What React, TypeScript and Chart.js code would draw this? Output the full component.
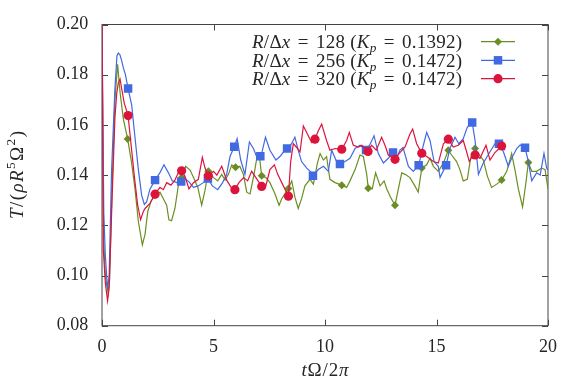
import React, { useEffect, useRef } from "react";
import { Chart, registerables } from "chart.js";
Chart.register(...registerables);

// ---------- data ----------
// R/Δx = 128 (green)
const t128 = [0, 0.07, 0.15, 0.27, 0.34, 0.45, 0.58, 0.7, 0.81, 0.96, 1.33, 1.48, 1.63, 1.81, 1.93, 2.05, 2.2, 2.6, 2.75, 2.9, 3.0, 3.12, 3.27, 3.42, 3.75, 3.95, 4.14, 4.3, 4.47, 4.62, 5.0, 5.19, 5.37, 5.52, 5.67, 5.82, 6.18, 6.34, 6.49, 6.64, 6.83, 6.94, 7.06, 7.35, 7.53, 7.76, 7.94, 8.06, 8.51, 8.65, 8.8, 8.95, 9.1, 9.33, 9.48, 9.66, 9.78, 9.93, 10.07, 10.22, 10.45, 10.97, 11.12, 11.35, 11.57, 11.72, 11.87, 12.12, 12.27, 12.47, 12.65, 12.77, 12.94, 13.29, 13.44, 13.59, 13.81, 14.03, 14.18, 14.56, 14.71, 14.86, 15.08, 15.31, 15.68, 15.9, 16.05, 16.2, 16.38, 16.53, 16.92, 17.1, 17.28, 17.47, 17.7, 18.15, 18.37, 18.52, 18.67, 18.86, 19.01, 19.27, 19.49, 19.72, 19.87, 20.0];
const v128 = [0.205, 0.115, 0.1, 0.093, 0.098, 0.135, 0.17, 0.1841, 0.173, 0.1622, 0.1448, 0.1344, 0.1215, 0.1122, 0.1164, 0.1254, 0.1297, 0.1332, 0.1306, 0.128, 0.1222, 0.1218, 0.1267, 0.1357, 0.1435, 0.142, 0.1383, 0.135, 0.128, 0.134, 0.139, 0.1377, 0.1403, 0.138, 0.1403, 0.1441, 0.1435, 0.1403, 0.1332, 0.1325, 0.1409, 0.1467, 0.1474, 0.139, 0.137, 0.1325, 0.128, 0.1306, 0.1377, 0.1312, 0.1267, 0.1306, 0.1357, 0.1383, 0.1364, 0.1448, 0.1486, 0.146, 0.1474, 0.1383, 0.137, 0.1351, 0.1377, 0.1422, 0.148, 0.1474, 0.1403, 0.1345, 0.1409, 0.1357, 0.1377, 0.1345, 0.1312, 0.1345, 0.1409, 0.1403, 0.139, 0.1357, 0.1332, 0.1441, 0.1467, 0.1435, 0.1415, 0.1448, 0.148, 0.1454, 0.1422, 0.1377, 0.1383, 0.1467, 0.148, 0.146, 0.1396, 0.1351, 0.1364, 0.1415, 0.1486, 0.142, 0.1345, 0.1273, 0.137, 0.1415, 0.1415, 0.1428, 0.1422, 0.1345];
const mark128T = [1.15, 2.38, 3.57, 4.77, 5.99, 7.16, 8.36, 10.75, 11.94, 13.14, 14.34, 15.53, 16.73, 17.92, 19.12];
const mark128V = [0.1544, 0.132, 0.139, 0.1415, 0.1431, 0.1397, 0.1347, 0.136, 0.1348, 0.128, 0.1428, 0.1499, 0.1506, 0.138, 0.145];

// R/Δx = 256 (blue)
const t256 = [0, 0.08, 0.15, 0.25, 0.32, 0.43, 0.58, 0.67, 0.73, 0.8, 0.87, 0.95, 1.05, 1.33, 1.48, 1.63, 1.78, 1.9, 2.0, 2.15, 2.6, 2.78, 2.98, 3.15, 3.35, 3.72, 3.9, 4.1, 4.32, 4.54, 4.95, 5.19, 5.41, 5.59, 5.74, 6.06, 6.22, 6.41, 6.61, 6.79, 6.95, 7.16, 7.33, 7.53, 7.8, 7.98, 8.12, 8.5, 8.65, 8.8, 8.95, 9.18, 9.4, 9.7, 9.93, 10.15, 10.3, 10.52, 10.9, 11.12, 11.35, 11.57, 12.0, 12.2, 12.39, 12.62, 12.84, 13.21, 13.36, 13.5, 13.74, 13.96, 14.41, 14.56, 14.71, 14.89, 15.08, 15.16, 15.6, 15.83, 16.0, 16.2, 16.38, 16.73, 16.88, 17.1, 17.4, 17.62, 18.0, 18.22, 18.37, 18.6, 18.75, 19.12, 19.27, 19.49, 19.65, 19.82, 19.94, 20.0];
const v256 = [0.2, 0.125, 0.108, 0.0945, 0.1, 0.142, 0.1745, 0.1875, 0.1886, 0.188, 0.186, 0.183, 0.18, 0.168, 0.155, 0.1422, 0.1319, 0.1283, 0.1293, 0.1344, 0.141, 0.1441, 0.1409, 0.1377, 0.137, 0.1386, 0.1373, 0.1351, 0.1357, 0.137, 0.1357, 0.1342, 0.137, 0.1403, 0.1474, 0.1545, 0.146, 0.1403, 0.1532, 0.1506, 0.147, 0.1486, 0.1551, 0.1499, 0.146, 0.1474, 0.149, 0.1525, 0.1551, 0.1499, 0.1454, 0.1428, 0.1409, 0.1422, 0.1435, 0.1415, 0.1499, 0.1454, 0.1454, 0.1467, 0.1506, 0.1519, 0.1519, 0.1557, 0.1486, 0.1448, 0.1467, 0.1467, 0.15, 0.151, 0.1435, 0.1415, 0.1519, 0.157, 0.1538, 0.1454, 0.1435, 0.139, 0.1506, 0.1551, 0.1525, 0.1545, 0.159, 0.1538, 0.1403, 0.1448, 0.1493, 0.1525, 0.1493, 0.1435, 0.1467, 0.1506, 0.152, 0.1454, 0.1377, 0.1409, 0.14, 0.1486, 0.1428, 0.142];
const mark256T = [1.17, 2.38, 3.55, 4.75, 5.93, 7.1, 8.3, 9.46, 10.67, 11.84, 13.05, 14.2, 15.43, 16.6, 17.8, 18.97];
const mark256V = [0.1745, 0.138, 0.1374, 0.1386, 0.1513, 0.1475, 0.1506, 0.1397, 0.1444, 0.15, 0.149, 0.1439, 0.1439, 0.161, 0.1525, 0.1509];

// R/Δx = 320 (red)
const t320 = [0, 0.06, 0.15, 0.25, 0.32, 0.45, 0.58, 0.66, 0.73, 0.81, 0.88, 1.0, 1.3, 1.45, 1.6, 1.73, 1.85, 1.93, 2.15, 2.26, 2.6, 2.75, 2.9, 3.09, 3.27, 3.42, 3.72, 3.9, 4.1, 4.32, 4.5, 4.62, 5.0, 5.15, 5.37, 5.59, 5.79, 6.14, 6.35, 6.53, 6.71, 6.9, 7.35, 7.53, 7.73, 7.88, 8.06, 8.46, 8.58, 8.73, 8.88, 9.03, 9.25, 9.4, 9.7, 9.85, 10.07, 10.22, 10.45, 10.97, 11.09, 11.27, 11.5, 11.65, 12.09, 12.3, 12.54, 12.69, 12.84, 13.36, 13.59, 13.81, 13.93, 14.11, 14.56, 14.86, 15.08, 15.31, 15.75, 15.98, 16.2, 16.35, 16.47, 16.6, 16.95, 17.22, 17.4, 17.62, 18.07];
const v320 = [0.205, 0.11, 0.097, 0.0899, 0.095, 0.13, 0.163, 0.1725, 0.1767, 0.1783, 0.1745, 0.1686, 0.1525, 0.1396, 0.128, 0.1222, 0.1254, 0.1267, 0.1287, 0.1305, 0.1351, 0.1342, 0.137, 0.136, 0.138, 0.1409, 0.1395, 0.1345, 0.137, 0.1383, 0.1471, 0.1428, 0.1415, 0.14, 0.1435, 0.138, 0.1351, 0.137, 0.139, 0.1377, 0.1415, 0.139, 0.1358, 0.1422, 0.1441, 0.1403, 0.137, 0.1454, 0.1525, 0.151, 0.1493, 0.1596, 0.1557, 0.153, 0.1577, 0.1603, 0.1538, 0.1499, 0.1506, 0.1538, 0.157, 0.1519, 0.1512, 0.1519, 0.1519, 0.1499, 0.1551, 0.1519, 0.148, 0.149, 0.1512, 0.1564, 0.1583, 0.1525, 0.1474, 0.1454, 0.1448, 0.1525, 0.1512, 0.1519, 0.1538, 0.1493, 0.1454, 0.1474, 0.1467, 0.1519, 0.146, 0.149, 0.15];
const mark320T = [1.17, 2.38, 3.57, 4.77, 5.96, 7.16, 8.36, 9.55, 10.75, 11.93, 13.14, 14.34, 15.53, 16.73, 17.92];
const mark320V = [0.1637, 0.1324, 0.1417, 0.1397, 0.1342, 0.1355, 0.1316, 0.1543, 0.1503, 0.1494, 0.1463, 0.1487, 0.1543, 0.148, 0.1516];

const xTicks = [0, 5, 10, 15, 20];
const yTicks = [0.08, 0.1, 0.12, 0.14, 0.16, 0.18, 0.2];

const legendNums = ["128", "256", "320"];
const legendKp = ["0.1392", "0.1472", "0.1472"];

// ---------- styling ----------
const COLORS = ["#6b8e23", "#4169e1", "#dc143c"];
const STYLES = ["rectRot", "rect", "circle"];
const RADII = [4, 6, 4.6];
const FONT = '"Liberation Serif", "DejaVu Serif", serif';
const FS = 18;
const TEXT = "#262626";
const FLEX = "\u2002"; // stretchable math space

function merge(t: number[], v: number[], mt: number[], mv: number[]) {
  const pts: any[] = t.map((x, i) => ({ x, y: v[i], m: false }));
  mt.forEach((x, i) => pts.push({ x, y: mv[i], m: true }));
  pts.sort((a, b) => a.x - b.x);
  return pts;
}

type Seg = { s: string; it?: boolean; sup?: boolean; sub?: boolean };

function drawMath(
  ctx: CanvasRenderingContext2D,
  segs: Seg[],
  x: number,
  y: number,
  align: "left" | "center" | "right",
  size: number,
  target?: number
) {
  const chars: { c: string; font: string; dy: number; w: number }[] = [];
  const base = y + size * 0.33;
  segs.forEach((g) => {
    const fs = g.sup || g.sub ? size * 0.7 : size;
    const font = `${g.it ? "italic " : ""}${fs}px ${FONT}`;
    const dy = g.sup ? -size * 0.42 : g.sub ? size * 0.22 : 0;
    ctx.font = font;
    for (const c of g.s) {
      chars.push({ c, font, dy, w: c === FLEX ? 0 : ctx.measureText(c).width });
    }
  });
  const natural = chars.reduce((a, b) => a + b.w, 0);
  const nFlex = chars.filter((c) => c.c === FLEX).length;
  let flexW = 0;
  let gap = 0;
  if (target) {
    if (nFlex) {
      gap = 0.25;
      flexW = (target - natural - gap * (chars.length - 1)) / nFlex;
    } else {
      gap = (target - natural) / Math.max(1, chars.length - 1);
    }
  }
  const total = target ? target : natural;
  let cx = align === "left" ? x : align === "center" ? x - total / 2 : x - total;
  ctx.textAlign = "left";
  ctx.textBaseline = "alphabetic";
  ctx.fillStyle = TEXT;
  chars.forEach((ch) => {
    if (ch.c !== FLEX) {
      ctx.font = ch.font;
      ctx.fillText(ch.c, cx, base + ch.dy);
    }
    cx += ch.w + gap + (ch.c === FLEX ? flexW : 0);
  });
}

const decor = {
  id: "decor",
  beforeDatasetsDraw(chart: any) {
    const { ctx, chartArea: a, scales } = chart;
    ctx.save();
    ctx.strokeStyle = "#444";
    ctx.lineWidth = 1;
    ctx.strokeRect(a.left, a.top, a.right - a.left, a.bottom - a.top);
    const L = 6;
    ctx.beginPath();
    xTicks.forEach((t) => {
      const px = Math.round(scales.x.getPixelForValue(t)) + 0.5;
      ctx.moveTo(px, a.bottom);
      ctx.lineTo(px, a.bottom - L);
      ctx.moveTo(px, a.top);
      ctx.lineTo(px, a.top + L);
    });
    yTicks.forEach((v) => {
      const py = Math.round(scales.y.getPixelForValue(v)) + 0.5;
      ctx.moveTo(a.left, py);
      ctx.lineTo(a.left + L, py);
      ctx.moveTo(a.right, py);
      ctx.lineTo(a.right - L, py);
    });
    ctx.stroke();
    ctx.restore();
  },
  afterDraw(chart: any) {
    const { ctx, chartArea: a } = chart;
    ctx.save();
    // x title
    drawMath(ctx, [{ s: "t", it: true }, { s: "Ω/2" }, { s: "π", it: true }], (a.left + a.right) / 2, 370, "center", 19, 47);
    // y title
    ctx.save();
    ctx.translate(17, 175);
    ctx.rotate(-Math.PI / 2);
    drawMath(
      ctx,
      [
        { s: "T", it: true },
        { s: "/(" },
        { s: "ρR", it: true },
        { s: "5", sup: true },
        { s: "Ω" },
        { s: "2", sup: true },
        { s: ")" },
      ],
      0,
      0,
      "center",
      19,
      88
    );
    ctx.restore();
    // legend
    const rows = [41.7, 60.3, 78.7];
    rows.forEach((ry, i) => {
      drawMath(
        ctx,
        [
          { s: "R", it: true },
          { s: "/Δ" },
          { s: "x", it: true },
          { s: FLEX + "=" + FLEX + legendNums[i] + " (" },
          { s: "K", it: true },
          { s: "p", it: true, sub: true },
          { s: FLEX + "=" + FLEX + legendKp[i] + ")" },
        ],
        462,
        ry,
        "right",
        19,
        210
      );
      ctx.strokeStyle = COLORS[i];
      ctx.lineWidth = 1.2;
      ctx.beginPath();
      ctx.moveTo(481, ry);
      ctx.lineTo(515, ry);
      ctx.stroke();
      ctx.fillStyle = COLORS[i];
      ctx.beginPath();
      const r = RADII[i];
      if (STYLES[i] === "circle") {
        ctx.arc(498, ry, r, 0, Math.PI * 2);
      } else if (STYLES[i] === "rect") {
        const s = r * Math.SQRT1_2;
        ctx.rect(498 - s, ry - s, 2 * s, 2 * s);
      } else {
        ctx.moveTo(498 - r, ry);
        ctx.lineTo(498, ry - r);
        ctx.lineTo(498 + r, ry);
        ctx.lineTo(498, ry + r);
        ctx.closePath();
      }
      ctx.fill();
    });
    ctx.restore();
  },
};

export default function App() {
  const ref = useRef<HTMLCanvasElement>(null);
  useEffect(() => {
    if (!ref.current) return;
    const series = [
      merge(t128, v128, mark128T, mark128V),
      merge(t256, v256, mark256T, mark256V),
      merge(t320, v320, mark320T, mark320V),
    ];
    const chart = new Chart(ref.current, {
      type: "scatter",
      data: {
        datasets: series.map((d, i) => ({
          label: "R/Δx = " + legendNums[i],
          data: d,
          order: 2 - i,
          showLine: true,
          borderColor: COLORS[i],
          backgroundColor: COLORS[i],
          borderWidth: 1.2,
          tension: 0,
          pointStyle: STYLES[i] as any,
          pointRadius: (c: any) => (c.raw && c.raw.m ? RADII[i] : 0),
          pointBorderWidth: 0,
          pointHoverRadius: 0,
          clip: 0,
        })),
      },
      options: {
        animation: false,
        responsive: false,
        devicePixelRatio: 1,
        layout: { padding: { top: 17.3, right: 33, left: 0, bottom: 0 } },
        plugins: { legend: { display: false }, tooltip: { enabled: false } },
        scales: {
          x: {
            type: "linear",
            min: 0,
            max: 20,
            afterFit: (s: any) => {
              s.height = 386 - 325.7;
            },
            afterBuildTicks: (s: any) => {
              s.ticks = xTicks.map((v) => ({ value: v }));
            },
            ticks: {
              padding: 11,
              color: TEXT,
              font: { family: FONT, size: FS },
              maxRotation: 0,
              callback: (v: any) => String(v),
            },
            grid: { display: false, drawTicks: false },
            border: { display: false },
          },
          y: {
            type: "linear",
            min: 0.08,
            max: 0.2,
            afterFit: (s: any) => {
              s.width = 102;
            },
            afterBuildTicks: (s: any) => {
              s.ticks = yTicks.map((v) => ({ value: v }));
            },
            ticks: {
              padding: 13.7,
              color: TEXT,
              font: { family: FONT, size: FS },
              callback: (v: any) => Number(v).toFixed(2),
            },
            grid: { display: false, drawTicks: false },
            border: { display: false },
          },
        },
      },
      plugins: [decor],
    });
    return () => chart.destroy();
  }, []);
  return (
    <div style={{ position: "absolute", left: 0, top: 0, width: 581, height: 386, background: "#fff" }}>
      <canvas ref={ref} width={581} height={386} />
    </div>
  );
}
